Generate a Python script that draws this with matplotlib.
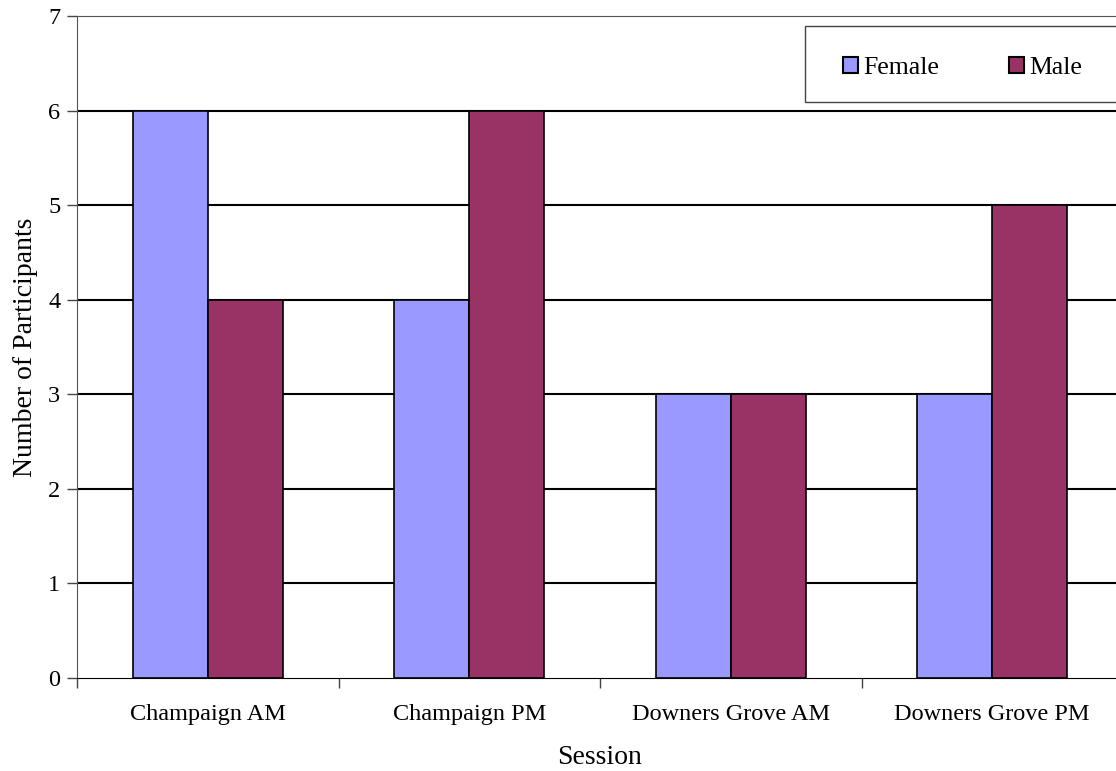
import matplotlib.pyplot as plt
import matplotlib.patches as mpatches
import numpy as np

plt.rcParams['font.family'] = ['Liberation Serif', 'DejaVu Serif']

sessions = ["Champaign AM", "Champaign PM", "Downers Grove AM", "Downers Grove PM"]
female = [6, 4, 3, 3]
male = [4, 6, 3, 5]

fig = plt.figure(figsize=(11.16, 7.71), dpi=100)
ax = fig.add_axes([77/1116, 93/771, 1046/1116, 662/771])

x = np.arange(len(sessions))
w = 0.2875
ax.bar(x - w/2, female, w, color='#9999FF', edgecolor='black', linewidth=1.2, label='Female', zorder=3)
ax.bar(x + w/2, male, w, color='#993366', edgecolor='black', linewidth=1.2, label='Male', zorder=3)

ax.set_xlim(-0.5, 3.5)
ax.set_ylim(0, 7)
ax.set_yticks(range(8))
for y in range(1, 7):
    ax.axhline(y, color='black', linewidth=1.5, zorder=1)

# category labels in the middle, ticks on the boundaries
ax.set_xticks(x)
ax.set_xticklabels(sessions, fontsize=17.5)
ax.tick_params(axis='x', length=0, pad=19)
ax.set_xticks(np.arange(-0.5, 4.0, 1), minor=True)
ax.tick_params(axis='x', which='minor', length=7, width=1, color='#444444')
ax.tick_params(axis='y', length=7, width=1, labelsize=17.5, pad=5, color='#444444')

for s in ['left', 'top']:
    ax.spines[s].set_color('#555555')
ax.spines['bottom'].set_color('black')
ax.spines['right'].set_visible(False)

ax.set_xlabel("Session", fontsize=20, labelpad=14)
ax.set_ylabel("Number of Participants", fontsize=20, labelpad=7)

# legend box, drawn separately so it can run off the right edge
box = mpatches.Rectangle((805/1116, 1 - 102/771), 320/1116, 76/771,
                         transform=fig.transFigure, facecolor='white',
                         edgecolor='#444444', linewidth=1.0, zorder=1)
fig.add_artist(box)

handles, labels = ax.get_legend_handles_labels()
leg = fig.legend(handles, labels, loc='center left',
                 bbox_to_anchor=(843/1116, 1 - 68/771), ncol=2, fontsize=18.5,
                 frameon=False, handlelength=0.6, handleheight=0.6,
                 handletextpad=0.2, columnspacing=2.7, borderpad=0,
                 borderaxespad=0)
for h in leg.legend_handles:
    h.set_linewidth(1.5)

fig.savefig('out.png', dpi=100)
